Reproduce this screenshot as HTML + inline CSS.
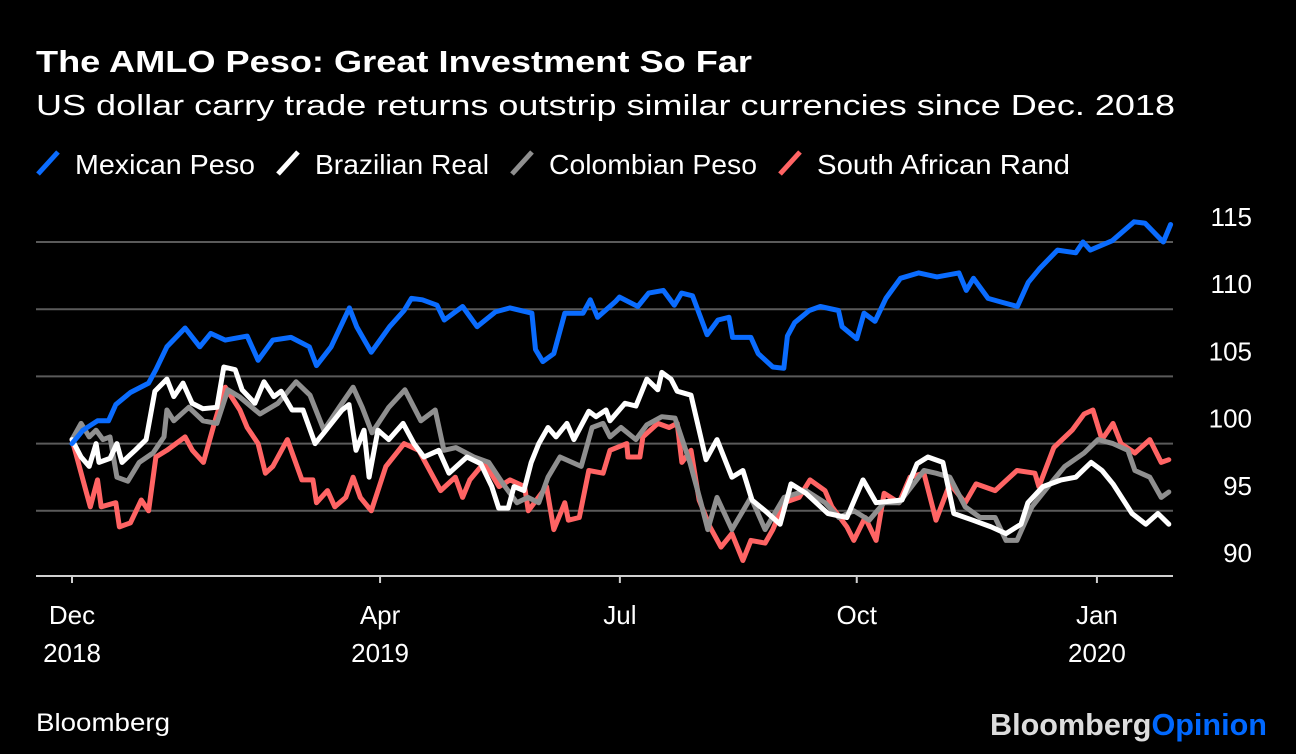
<!DOCTYPE html>
<html><head><meta charset="utf-8">
<style>
body{margin:0;background:#000;width:1296px;height:754px;overflow:hidden;font-family:"Liberation Sans",sans-serif;color:#fff}
svg{position:absolute;left:0;top:0}
</style></head>
<body>
<svg width="1296" height="754">
<text x="36" y="72" font-size="31" font-weight="bold" fill="#fff" textLength="716" lengthAdjust="spacingAndGlyphs">The AMLO Peso: Great Investment So Far</text>
<text x="36" y="115" font-size="29" fill="#fff" textLength="1139" lengthAdjust="spacingAndGlyphs">US dollar carry trade returns outstrip similar currencies since Dec. 2018</text>
<g id="legend"></g>
<g id="grid"></g>
<g id="yaxis"></g>
<g id="xaxis"></g>
<g id="series"></g>
<text x="36" y="731" font-size="25" fill="#fff" textLength="134" lengthAdjust="spacingAndGlyphs">Bloomberg</text>
<text x="990" y="735" font-size="31" font-weight="bold" textLength="277" lengthAdjust="spacingAndGlyphs"><tspan fill="#dcdcdc">Bloomberg</tspan><tspan fill="#0068ff">Opinion</tspan></text>
</svg>
<script>
const yTicks=[90,95,100,105,110,115];
const xTickDays=[0,84.4,150.1,215,280.8];
const xTickTop=["Dec","Apr","Jul","Oct","Jan"];
const xTickBottom=["2018","2019","","","2020"];
const seriesNames=["Mexican Peso","Brazilian Real","Colombian Peso","South African Rand"];
const seriesColors=["#0a6cff","#ffffff","#8f8f8f","#ff6464"];

const mxnDays=[0,3,7,10,12,16,21,23,26,31,35,38,42,48,51,55,60,65,67,71,76,78,82,87,91,93,96,100,102,107,111,116,120,126,127,129,132,135,140,142,144,149,150,155,158,162,165,167,170,174,177,180,181,186,188,192,195,196,198,202,205,210,211,215,217,220,223,227,232,237,243,245,247,251,255,259,262,265,270,275,277,279,285,291,294,299,301];
const mxnVals=[100,101,101.7,101.7,102.9,103.8,104.5,105.5,107.2,108.6,107.2,108.2,107.7,108,106.2,107.7,107.9,107.2,105.8,107.2,110.1,108.7,106.8,108.7,109.9,110.8,110.7,110.3,109.2,110.2,108.7,109.8,110.1,109.7,107,106.1,106.7,109.7,109.7,110.7,109.4,110.6,110.9,110.2,111.2,111.4,110.3,111.2,111,108.1,109.2,109.4,107.9,107.9,106.7,105.7,105.6,108,109,109.9,110.2,109.9,108.7,107.8,109.7,109.1,110.8,112.3,112.7,112.4,112.7,111.4,112.3,110.8,110.5,110.2,112,113,114.4,114.2,115,114.4,115.1,116.5,116.4,115,116.3];

const brlDays=[0,2.5,4.7,6.6,7.4,10.4,12.3,13.7,17.3,20.3,22.7,26,27.9,30.4,32.9,35.9,39.7,41.6,44.7,46.6,50.1,52.6,55.3,57.3,60.3,63.3,66.6,69,74,75.9,77.8,80,81.4,83.8,86.8,90.7,93.7,96.4,100.5,103.3,108.2,112,115,116.9,119.5,121.1,123.8,125.8,127.9,130.4,132.6,135.6,137.5,141.6,143.6,146.3,
147.4,151.5,154.5,157.5,160.5,161.6,164.1,165.8,169.6,173.7,176.7,180.8,183.8,186.3,189.9,194,197,201.1,207.1,212.3,216.7,220.3,227.4,231.5,234.5,238.6,241.6,246.8,251.8,255.9,260,261.9,266,271,275,279.2,282.2,285.2,290.4,294.2,297.5,300.5];
const brlVals=[100.3,99,98.3,100,98.6,98.9,100,98.6,99.5,100.3,103.9,104.8,103.5,104.5,103,102.6,102.7,105.7,105.5,104,103,104.6,103.5,103.9,102.5,102.5,100,100.8,102.5,102.9,99.5,101,97.5,101,100.3,101.5,100,99,99.5,97.8,99,98.5,96.8,95.2,95.2,96.8,96.5,98.6,100,101.2,100.5,101.5,100.3,102.4,102,102.5,
101.7,103,102.8,104.8,104,105.3,104.8,103.9,103.6,98.8,100.3,97.5,98,95.8,95,94,97,96.3,94.8,94.5,97.3,95.6,95.8,98.5,99,98.6,94.8,94.3,93.8,93.3,94,95.6,96.8,97.3,97.5,98.6,98,97,94.8,94,94.8,94];

const copDays=[0,2.5,4.7,6.6,8.5,10.4,12.3,15.3,18.4,22.2,25.2,26,27.9,32,35.9,39.7,42.7,45.8,51.5,56.4,61.4,65.2,69,73.2,77,79.5,82.2,86.8,91.2,95.6,99.5,101.9,105.2,110.1,114.2,118.1,121.9,124.9,127.9,130.4,133.7,139.5,142.5,145.5,
147.4,150.4,154.5,157.5,161.6,165.2,169.3,172.3,174.2,176.7,180.8,186,189.9,195.1,201.1,206.3,210.1,214.2,218.4,222.5,226.6,233.4,236.7,240.5,244.7,248.8,252.9,255.9,258.9,263,268,272,277.3,281.1,285.2,289.3,291.2,295.3,298.4,300.5];
const copVals=[100.3,101.5,100.5,101,100.3,100.5,97.5,97.2,98.6,99.3,100.5,102.5,101.7,102.7,101.7,101.5,104,103.5,102.2,103,104.6,103.6,101,102.7,104.2,102.7,100.8,102.7,104,101.7,102.5,99.5,99.7,99,98.6,97,95.6,96,95.6,97.5,99,98.3,101.2,101.5,
100.5,101.2,100.3,101.4,102,101.9,98.6,95.6,93.6,96,93.6,96,93.6,96,96.5,95.6,94.5,95,94.3,95.6,95.6,98,97.8,97.5,95.3,94.5,94.5,92.8,92.8,95.3,97,98.3,99.3,100.3,100,99.5,98,97.5,96,96.4];

const zarDays=[0,1,4,5,7,8,12,13,16,19,21,23,26,31,33,36,39,42,46,48,51,53,55,59,63,66,67,70,72,75,77,79,82,86,91,95,101,105,107,109,113,117,120,124,125,130,132,135,136,139,141.6,145.5,
147.4,152,152.3,155.6,156.4,160.5,163.6,165.8,167.1,169.6,171.8,174.8,177.8,180.8,183.8,186,189.9,192,195.1,199.2,202.2,206.3,208.2,212.3,214.2,217.3,220.3,222.5,226.6,229.6,233.4,236.7,240.5,244.7,247.7,252.9,258.9,263.8,264.9,269,274,277.3,279.7,282.2,285.2,287.4,291.2,295.3,298.4,300.5];
const zarVals=[100.3,99.3,96.3,95.3,97.3,95.3,95.6,93.8,94.1,95.8,95,99,99.5,100.5,99.5,98.6,101.5,104.2,102.5,101.2,100,97.8,98.3,100.3,97.3,97.3,95.6,96.5,95.3,96,97.5,96,95,98.3,100,99.5,96.5,97.5,96,97.3,98.6,96.8,97.3,96.8,95,96.8,93.6,95.6,94.3,94.5,98,97.8,
99.5,100,99,99,100.5,101.5,101.2,101.5,98.6,99.5,95.8,93.8,92.3,93.3,91.3,92.8,92.6,93.6,95.6,96,97.3,96.5,95.3,93.8,92.8,94.5,92.8,96.3,95.6,97.5,97.8,94.3,97,95.6,97,96.5,98,97.8,96.8,99.7,101,102.2,102.5,100.3,101.5,100,99.3,100.3,98.6,98.8];

const xS=d=>72+d*3.65;
const yS=v=>242+(115-v)*13.44;
const NS="http://www.w3.org/2000/svg";
function mk(tag,attrs,parent){const e=document.createElementNS(NS,tag);for(const k in attrs)e.setAttribute(k,attrs[k]);parent.appendChild(e);return e;}

const grid=document.getElementById('grid');
const yax=document.getElementById('yaxis');
yTicks.forEach((t,i)=>{
  if(t>90){const l=mk('line',{x1:36,x2:1173,y1:yS(t),y2:yS(t),stroke:'#5a5a5a','stroke-width':2},grid);
  
  }
  const tx=mk('text',{x:1252,y:yS(t)-16,'font-size':26,'text-anchor':'end',fill:'#fff'},yax);
  tx.textContent=t;
  
  
});
const xax=document.getElementById('xaxis');
const axl=mk('line',{x1:36,x2:1173,y1:576,y2:576,stroke:'#d0d0d0','stroke-width':2},xax);


xTickDays.forEach((d,i)=>{
  const tk=mk('line',{x1:xS(d),x2:xS(d),y1:576,y2:583,stroke:'#d0d0d0','stroke-width':2},xax);
  
  
  const t1=mk('text',{x:xS(d),y:624,'font-size':26,'text-anchor':'middle',fill:'#fff'},xax);
  t1.textContent=xTickTop[i];
  
  
  if(xTickBottom[i]){const t2=mk('text',{x:xS(d),y:662,'font-size':26,'text-anchor':'middle',fill:'#fff'},xax);
  t2.textContent=xTickBottom[i];
  
  }
});

const allDays=[mxnDays,brlDays,copDays,zarDays];
const allVals=[mxnVals,brlVals,copVals,zarVals];
const sg=document.getElementById('series');
[3,2,1,0].forEach(i=>{
  const ds=allDays[i],vs=allVals[i];const n=Math.min(ds.length,vs.length);
  let p='';for(let k=0;k<n;k++)p+=(k?'L':'M')+xS(ds[k]).toFixed(1)+' '+yS(vs[k]).toFixed(1);
  const path=mk('path',{d:p,fill:'none',stroke:seriesColors[i],'stroke-width':5,'stroke-linejoin':'round','stroke-linecap':'round'},sg);
  
  
});

const lg=document.getElementById('legend');
const lx=[38,278,512,780];
const lw=[180,174,208,253];
seriesNames.forEach((nm,i)=>{
  const g=mk('g',{},lg);
  
  
  mk('line',{x1:lx[i],y1:174,x2:lx[i]+20,y2:152,stroke:seriesColors[i],'stroke-width':5},g);
  const t=mk('text',{x:lx[i]+37,y:174,'font-size':28,fill:'#fff',textLength:lw[i],lengthAdjust:'spacingAndGlyphs'},g);
  t.textContent=nm;
});
</script>
</body></html>
